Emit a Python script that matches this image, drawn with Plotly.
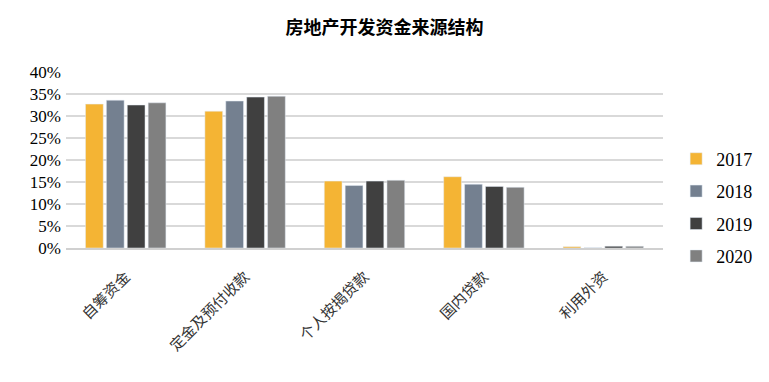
import plotly.graph_objects as go

categories = ["自筹资金", "定金及预付收款", "个人按揭贷款", "国内贷款", "利用外资"]
years = ["2017", "2018", "2019", "2020"]
v2017 = [32.7, 31.1, 15.2, 16.2, 0.3]
v2018 = [33.6, 33.4, 14.2, 14.5, 0.05]
v2019 = [32.5, 34.3, 15.2, 14.0, 0.4]
v2020 = [33.0, 34.5, 15.4, 13.8, 0.4]
series = [v2017, v2018, v2019, v2020]
colors = ["#F4B434", "#748090", "#404040", "#808080"]
yticks = [0, 5, 10, 15, 20, 25, 30, 35, 40]

fig = go.Figure()
for i, (yr, vals) in enumerate(zip(years, series)):
    fig.add_trace(go.Bar(x=categories, y=vals, name=yr, marker_color=colors[i],
                         legendgroup=yr))

fig.update_layout(
    width=769, height=382,
    margin=dict(l=66, r=99, t=72, b=134),
    paper_bgcolor="white", plot_bgcolor="white",
    title=dict(text="<b>房地产开发资金来源结构</b>", x=0.5, xanchor="center", y=1 - 28 / 382, yanchor="middle",
               font=dict(family="Noto Sans CJK SC", size=18, color="black")),
    barmode="group", bargap=0.3, bargroupgap=0.15,
    showlegend=True,
    legend=dict(x=1.022, xanchor="left", y=0.23, yanchor="middle",
                font=dict(family="Liberation Serif", size=18, color="black"),
                tracegroupgap=6, itemwidth=30),
    xaxis=dict(tickangle=-45, tickfont=dict(family="Noto Sans CJK SC", size=15, color="#333"),
               showline=True, linecolor="#d0d0d0", linewidth=2, ticks="", automargin=False,
               ticklabelstandoff=12),
    yaxis=dict(range=[0, 40], tickvals=yticks, ticktext=[f"{t}%" for t in yticks],
               tickfont=dict(family="Liberation Serif", size=17, color="black"),
               showgrid=True, gridcolor="#d9d9d9", gridwidth=2, zeroline=False, ticks="",
               ticklabelstandoff=4, automargin=False),
)
fig.write_html("out.html", config={"displayModeBar": False},
               post_script="document.body.style.margin='0';")
